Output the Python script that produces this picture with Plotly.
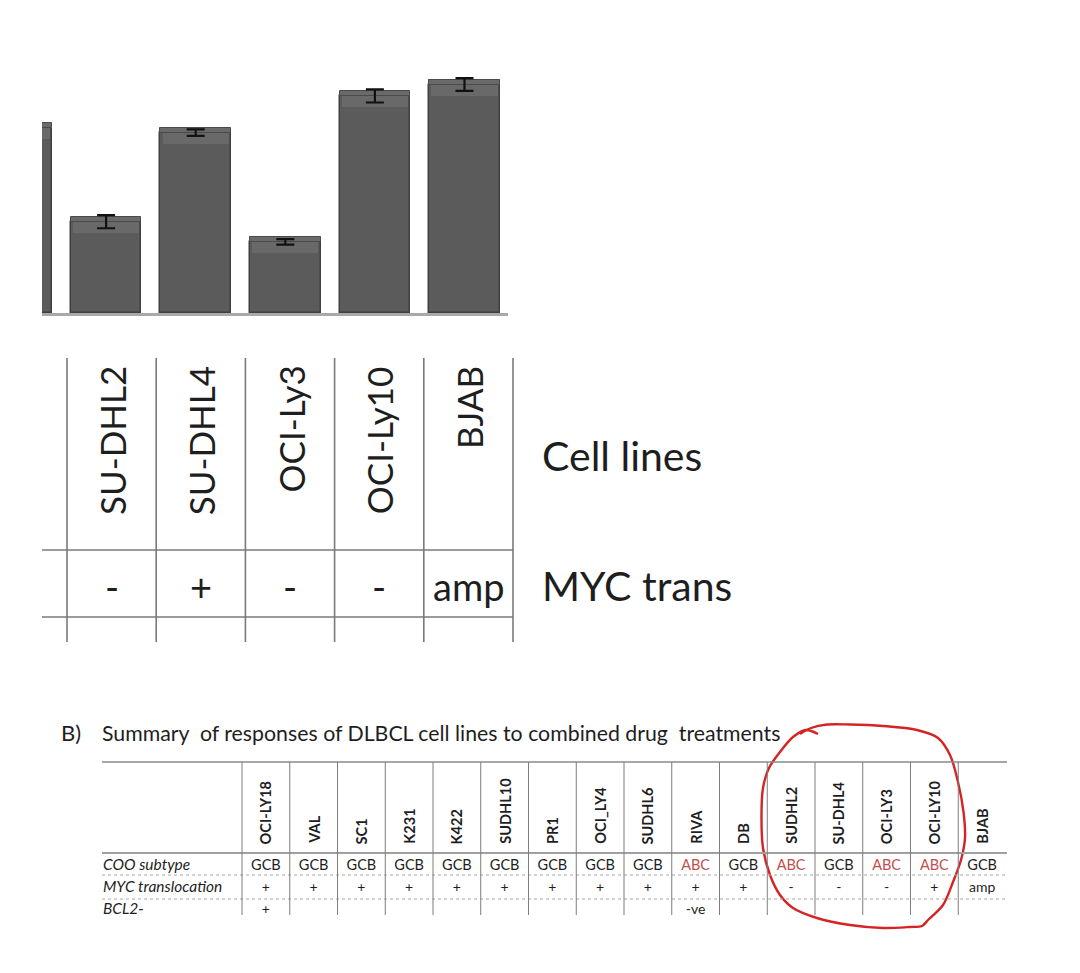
import plotly.graph_objects as go

W, H = 1080, 973
FONT = "Lato, 'Open Sans', sans-serif"
INK = "#1e1e1e"
RED_TXT = "#c0504d"
RED_PEN = "#d42424"

# ---------------- Panel A: bars (index 0 = preceding cell line, cut off at the left edge)
bar_index = [0, 1, 2, 3, 4, 5]
bar_values = [73.3, 36.1, 71.3, 28.1, 85.8, 90.3]
bar_errors = [1.6, 2.6, 1.3, 1.1, 2.6, 2.5]

# ---------------- Panel A: table under the bars
mid_cell_lines = ["SU-DHL2", "SU-DHL4", "OCI-Ly3", "OCI-Ly10", "BJAB"]
mid_myc = ["-", "+", "-", "-", "amp"]
mid_row_labels = ["Cell lines", "MYC trans"]

# ---------------- Panel B
panel_b_letter = "B)"
panel_b_title = "Summary  of responses of DLBCL cell lines to combined drug  treatments"
b_cell_lines = ["OCI-LY18", "VAL", "SC1", "K231", "K422", "SUDHL10", "PR1", "OCI_LY4",
                "SUDHL6", "RIVA", "DB", "SUDHL2", "SU-DHL4", "OCI-LY3", "OCI-LY10", "BJAB"]
b_coo = ["GCB", "GCB", "GCB", "GCB", "GCB", "GCB", "GCB", "GCB",
         "GCB", "ABC", "GCB", "ABC", "GCB", "ABC", "ABC", "GCB"]
b_myc = ["+", "+", "+", "+", "+", "+", "+", "+", "+", "+", "+", "-", "-", "-", "+", "amp"]
b_bcl2 = ["+", "", "", "", "", "", "", "", "", "-ve", "", "", "", "", "", ""]
b_row_labels = ["COO subtype", "MYC translocation", "BCL2-"]

# ---------------- geometry helpers (pixel -> paper)
def px(x):
    return x / W

def py(y):
    return 1 - y / H

# bar panel geometry
BAR_LEFT, BAR_RIGHT, BAR_TOP, BAR_BASE = 42, 508, 60, 313
BAR_C0, BAR_STEP = 16.5, 89.6
BEVEL = 1.8

# middle table geometry
MID_L, MID_W = 67, 89.2
MID_TOP, MID_H1, MID_H2, MID_BOT = 358, 550, 617, 642

# table B geometry
TB_L, TB_R = 102, 1007
TB_C0, TB_W = 242, 47.75
TB_TOP, TB_HDR, TB_R1, TB_R2, TB_BOT = 762, 853, 875, 899, 915
tb_rows_y = [866, 888, 910.5]

fig = go.Figure()

# bars
fig.add_trace(go.Bar(
    x=bar_index, y=bar_values, width=0.79,
    marker=dict(color="#5b5b5b", line=dict(color="#404040", width=1.5)),
    xaxis="x", yaxis="y", showlegend=False, hoverinfo="skip"))
# bevelled top of each bar
fig.add_trace(go.Bar(
    x=bar_index, y=[BEVEL] * len(bar_values), base=bar_values, width=0.79,
    marker=dict(color="#6a6a6a", line=dict(color="#4a4a4a", width=1)),
    xaxis="x", yaxis="y", showlegend=False, hoverinfo="skip"))
# soft gloss just below the top
fig.add_trace(go.Bar(
    x=bar_index, y=[4.5] * len(bar_values), base=[v - 4.5 for v in bar_values], width=0.74,
    marker=dict(color="rgba(255,255,255,0.09)", line=dict(width=0)),
    xaxis="x", yaxis="y", showlegend=False, hoverinfo="skip"))
# error bars
fig.add_trace(go.Scatter(
    x=bar_index, y=bar_values, mode="markers",
    marker=dict(size=2, color="rgba(0,0,0,0)"),
    error_y=dict(type="data", array=bar_errors, visible=True, color="#111111",
                 thickness=2.2, width=9),
    xaxis="x", yaxis="y", showlegend=False, hoverinfo="skip"))

# table B cell texts (clipped at the bottom of the crop)
ncol = len(b_cell_lines)
cols = list(range(ncol))
fig.add_trace(go.Scatter(
    x=cols, y=[tb_rows_y[0]] * ncol, mode="text", text=b_coo,
    textfont=dict(family=FONT, size=14.5, color=[RED_TXT if c == "ABC" else INK for c in b_coo]),
    textposition="middle center", xaxis="x3", yaxis="y3", showlegend=False, hoverinfo="skip"))
fig.add_trace(go.Scatter(
    x=cols, y=[tb_rows_y[1]] * ncol, mode="text", text=b_myc,
    textfont=dict(family=FONT, size=14, color=INK),
    textposition="middle center", xaxis="x3", yaxis="y3", showlegend=False, hoverinfo="skip"))
fig.add_trace(go.Scatter(
    x=cols, y=[tb_rows_y[2]] * ncol, mode="text", text=b_bcl2,
    textfont=dict(family=FONT, size=14, color=INK),
    textposition="middle center", xaxis="x3", yaxis="y3", showlegend=False, hoverinfo="skip"))
x3_left = (TB_L - TB_C0) / TB_W - 0.5
x3_right = (TB_R - TB_C0) / TB_W - 0.5
fig.add_trace(go.Scatter(
    x=[x3_left + 0.02] * len(b_row_labels), y=tb_rows_y, mode="text", text=b_row_labels,
    textfont=dict(family=FONT, size=15.5, color=INK, style="italic"),
    textposition="middle right", xaxis="x3", yaxis="y3", showlegend=False, hoverinfo="skip"))

# hand-drawn red loop around the highlighted cell lines (page pixel overlay)
loop_x = [818, 806, 793, 780, 769, 763, 761.5, 763, 770, 780, 793, 817, 850, 883, 910,
          922, 928, 943, 953, 961, 965, 963.5, 958, 950, 938, 917, 883, 850, 827, 811, 800]
loop_y = [734, 730, 737, 752, 768, 788, 815, 848, 875, 895, 908, 918, 925, 928, 927,
          926, 920, 905, 882, 860, 838, 812, 782, 755, 738, 730, 726, 724.5, 724.5, 728, 734]
fig.add_trace(go.Scatter(
    x=loop_x, y=loop_y, mode="lines",
    line=dict(color=RED_PEN, width=2.4, shape="spline", smoothing=0.9),
    xaxis="x4", yaxis="y4", showlegend=False, hoverinfo="skip"))

shapes = []

def hline(y, x0, x1, color, width=1.5, dash="solid"):
    shapes.append(dict(type="line", xref="paper", yref="paper", x0=px(x0), x1=px(x1),
                       y0=py(y), y1=py(y), line=dict(color=color, width=width, dash=dash)))

def vline(x, y0, y1, color, width=1.5, dash="solid"):
    shapes.append(dict(type="line", xref="paper", yref="paper", x0=px(x), x1=px(x),
                       y0=py(y0), y1=py(y1), line=dict(color=color, width=width, dash=dash)))

# middle table grid
for k in range(len(mid_cell_lines) + 1):
    vline(MID_L + k * MID_W, MID_TOP, MID_BOT, "#7a7a7a", 1.6)
hline(MID_H1, BAR_LEFT, MID_L + len(mid_cell_lines) * MID_W, "#7a7a7a", 1.6)
hline(MID_H2, BAR_LEFT, MID_L + len(mid_cell_lines) * MID_W, "#7a7a7a", 1.6)

# table B grid
hline(TB_TOP, TB_L, TB_R, "#8a8a8a", 1.5)
hline(TB_HDR, TB_L, TB_R, "#a0a0a0", 2)
hline(TB_R1, TB_L, TB_R, "#a8a8a8", 1, "dot")
hline(TB_R2, TB_L, TB_R, "#a8a8a8", 1, "dot")
for k in range(ncol):
    vline(TB_C0 + k * TB_W, TB_TOP, TB_BOT, "#7d7d7d", 1)

annotations = []
# middle table headers (rotated) and MYC row
for j, name in enumerate(mid_cell_lines):
    cx = MID_L + (j + 0.5) * MID_W
    annotations.append(dict(x=px(cx), y=py(364), xref="paper", yref="paper", text=name,
                            textangle=-90, showarrow=False, xanchor="center", yanchor="top",
                            font=dict(family=FONT, size=35, color=INK)))
    annotations.append(dict(x=px(cx), y=py(586), xref="paper", yref="paper", text=mid_myc[j],
                            showarrow=False, xanchor="center", yanchor="middle",
                            font=dict(family=FONT, size=38, color=INK)))
for lab, yy in zip(mid_row_labels, [455, 585]):
    annotations.append(dict(x=px(540), y=py(yy), xref="paper", yref="paper", text=lab,
                            showarrow=False, xanchor="left", yanchor="middle",
                            font=dict(family=FONT, size=41, color=INK)))

# panel B title
annotations.append(dict(x=px(59), y=py(732), xref="paper", yref="paper", text=panel_b_letter,
                        showarrow=False, xanchor="left", yanchor="middle",
                        font=dict(family=FONT, size=22, color=INK)))
annotations.append(dict(x=px(100), y=py(733), xref="paper", yref="paper", text=panel_b_title,
                        showarrow=False, xanchor="left", yanchor="middle",
                        font=dict(family=FONT, size=21.3, color=INK)))
# table B rotated headers
for k, name in enumerate(b_cell_lines):
    cx = TB_C0 + (k + 0.5) * TB_W
    annotations.append(dict(x=px(cx), y=py(846), xref="paper", yref="paper", text="<b>%s</b>" % name,
                            textangle=-90, showarrow=False, xanchor="center", yanchor="bottom",
                            font=dict(family=FONT, size=14.5, color=INK)))

hidden = dict(showgrid=False, zeroline=False, showticklabels=False, ticks="", showline=False)

fig.update_layout(
    width=W, height=H, margin=dict(l=0, r=0, t=0, b=0),
    paper_bgcolor="white", plot_bgcolor="rgba(0,0,0,0)",
    barmode="overlay", bargap=0,
    xaxis=dict(domain=[px(BAR_LEFT), px(BAR_RIGHT)],
               range=[(BAR_LEFT - BAR_C0) / BAR_STEP, (BAR_RIGHT - BAR_C0) / BAR_STEP],
               showgrid=False, zeroline=False, showticklabels=False, ticks="",
               showline=True, linecolor="#a9a9a9", linewidth=3, anchor="y"),
    yaxis=dict(domain=[py(BAR_BASE), py(BAR_TOP)], range=[0, 100], anchor="x", **hidden),
    xaxis3=dict(domain=[px(TB_L), px(TB_R)], range=[x3_left, x3_right], anchor="y3", **hidden),
    yaxis3=dict(domain=[py(TB_BOT), py(TB_TOP)], range=[TB_BOT, TB_TOP], anchor="x3", **hidden),
    xaxis4=dict(domain=[0, 1], range=[0, W], anchor="y4", **hidden),
    yaxis4=dict(domain=[0, 1], range=[H, 0], anchor="x4", **hidden),
    shapes=shapes, annotations=annotations,
)

fig.write_html("out.html", config={"displayModeBar": False},
               post_script="document.body.style.margin='0';document.body.style.overflow='hidden';")
